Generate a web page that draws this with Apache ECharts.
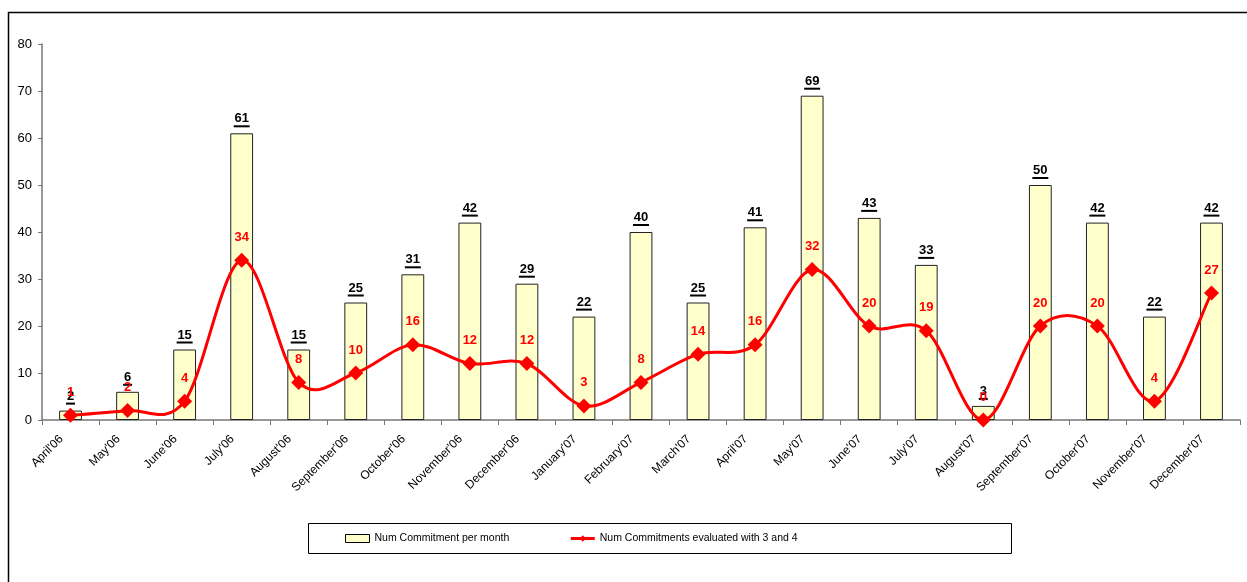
<!DOCTYPE html>
<html>
<head>
<meta charset="utf-8">
<script src="https://cdn.jsdelivr.net/npm/echarts@6/dist/echarts.min.js"></script>
<style>html,body{margin:0;padding:0;background:#fff}#c{width:1247px;height:582px}</style>
</head>
<body>
<div id="c"></div>
<script>
const categories = ["April'06","May'06","June'06","July'06","August'06","September'06","October'06","November'06","December'06","January'07","February'07","March'07","April'07","May'07","June'07","July'07","August'07","September'07","October'07","November'07","December'07"];
const commitmentsPerMonth = [2,6,15,61,15,25,31,42,29,22,40,25,41,69,43,33,3,50,42,22,42];
const commitmentsEvaluated = [1,2,4,34,8,10,16,12,12,3,8,14,16,32,20,19,0,20,20,4,27];
const yTicks = [0,10,20,30,40,50,60,70,80];

const chart = echarts.init(document.getElementById('c'), null, {renderer:'canvas'});
const font = 'Arial, "Liberation Sans", sans-serif';
const lineName = 'Num Commitments evaluated with 3 and 4';

// Excel-like smoothed curve (Catmull-Rom, 1/6 tension) drawn in pixel space via the axes
function renderSmooth(params, api) {
  if (params.dataIndex !== 0) return null;
  const pts = commitmentsEvaluated.map((v, i) => api.coord([i, v]));
  const children = [];
  for (let i = 0; i < pts.length - 1; i++) {
    const p0 = pts[Math.max(i - 1, 0)], p1 = pts[i], p2 = pts[i + 1], p3 = pts[Math.min(i + 2, pts.length - 1)];
    children.push({
      type: 'bezierCurve',
      shape: {
        x1: p1[0], y1: p1[1], x2: p2[0], y2: p2[1],
        cpx1: p1[0] + (p2[0] - p0[0]) / 6, cpy1: p1[1] + (p2[1] - p0[1]) / 6,
        cpx2: p2[0] - (p3[0] - p1[0]) / 6, cpy2: p2[1] - (p3[1] - p1[1]) / 6
      },
      style: {fill: null, stroke: '#FF0000', lineWidth: 3, lineCap: 'round', lineJoin: 'round'}
    });
  }
  return {type: 'group', children};
}

chart.setOption({
  animation: false,
  backgroundColor: '#fff',
  graphic: [
    {type:'rect', shape:{x:8.5,y:12.5,width:1260,height:600}, style:{fill:'none',stroke:'#000',lineWidth:1.5}, silent:true, z:-10},
    {type:'rect', shape:{x:308.5,y:523.5,width:703,height:30}, style:{fill:'#fff',stroke:'#000',lineWidth:1}, silent:true, z:-5}
  ],
  grid: {left:42, right:7, top:44, bottom:162, containLabel:false},
  legend: {
    left: 345, top: 533, padding: 0,
    itemWidth: 24, itemHeight: 8, itemGap: 60,
    textStyle: {fontFamily: font, fontSize: 10.5, color:'#000'},
    data: [
      {name:'Num Commitment per month', icon:'rect', itemStyle:{color:'#FFFFCC', borderColor:'#000', borderWidth:1}},
      {name: lineName, lineStyle:{opacity:1, color:'#FF0000', width:3}, itemStyle:{color:'#FF0000'}}
    ]
  },
  xAxis: {
    type:'category', data: categories, boundaryGap:true,
    axisLine:{lineStyle:{color:'#777', width:1.5}},
    axisTick:{show:true, length:5, alignWithLabel:false, lineStyle:{color:'#777'}},
    axisLabel:{rotate:45, fontFamily:font, fontSize:12, color:'#000', margin:8, interval:0, padding:[0,13,0,0]}
  },
  yAxis: {
    type:'value', min: yTicks[0], max: yTicks[yTicks.length-1], interval: 10,
    splitLine:{show:false},
    axisLine:{show:true, lineStyle:{color:'#777', width:1.5}},
    axisTick:{show:true, length:4, lineStyle:{color:'#777'}},
    axisLabel:{fontFamily:font, fontSize:13, color:'#000', margin:10}
  },
  series: [
    {
      name:'Num Commitment per month', type:'bar', data: commitmentsPerMonth,
      barWidth: '40%',
      itemStyle:{color:'#FFFFCC', borderColor:'#222', borderWidth:1},
      label:{
        show:true, position:'top', distance:6,
        formatter: p => '{v|' + p.value + '}\n{u' + String(p.value).length + '| }',
        rich:{
          v:{fontFamily:font, fontSize:13, fontWeight:'bold', color:'#000', lineHeight:13},
          u1:{width:9, height:2, lineHeight:2, backgroundColor:'#000'},
          u2:{width:16, height:2, lineHeight:2, backgroundColor:'#000'}
        }
      },
      z:1
    },
    {
      name:'smoothCurve', type:'custom', renderItem: renderSmooth,
      data: commitmentsEvaluated.map((v, i) => [i, v]),
      encode:{x:0, y:1}, silent:true, z:2, clip:false
    },
    {
      name: lineName, type:'line', data: commitmentsEvaluated,
      smooth: false,
      symbol:'diamond', symbolSize:15,
      lineStyle:{color:'#FF0000', width:3, opacity:0},
      itemStyle:{color:'#FF0000'},
      label:{show:true, position:'top', distance:9, fontFamily:font, fontSize:13, fontWeight:'bold', color:'#FF0000'},
      z:3
    }
  ]
});
</script>
</body>
</html>
